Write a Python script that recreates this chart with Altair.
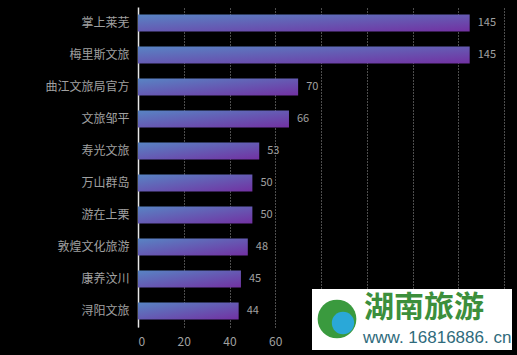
import altair as alt
import pandas as pd

names = ["掌上莱芜", "梅里斯文旅", "曲江文旅局官方", "文旅邹平", "寿光文旅",
         "万山群岛", "游在上栗", "敦煌文化旅游", "康养汶川", "浔阳文旅"]
values = [145, 145, 70, 66, 53, 50, 50, 48, 45, 44]
x_ticks = [0, 20, 40, 60, 80, 100, 120, 140, 160]

df = pd.DataFrame({"name": names, "value": values})

FONT = "Noto Sans CJK SC"
GRAY = "#a0a0a0"

y_enc = alt.Y("name:N", sort=names, title=None,
              scale=alt.Scale(paddingInner=0.47, paddingOuter=0.235),
              axis=alt.Axis(labelColor=GRAY, labelFontSize=12, labelFont=FONT,
                            labelPadding=9, ticks=False, domainColor="#e6e6e6",
                            domainWidth=1.5, grid=False))
x_enc = alt.X("value:Q", title=None,
              scale=alt.Scale(domain=[0, 160], nice=False),
              axis=alt.Axis(values=x_ticks, labelColor=GRAY, labelFontSize=12,
                            labelFont=FONT, labelPadding=9, ticks=False, domain=False,
                            labelExpr="datum.value <= 60 ? datum.label : ''",
                            grid=True, gridColor="#9a9a9a", gridDash=[1, 2],
                            gridWidth=1))

gradient = alt.Gradient(
    gradient="linear", x1=0, y1=0, x2=1, y2=1,
    stops=[alt.GradientStop(color="#5884c4", offset=0),
           alt.GradientStop(color="#7231a2", offset=1)])

bars = alt.Chart(df).mark_bar(color=gradient).encode(x=x_enc, y=y_enc)
labels = alt.Chart(df).mark_text(align="left", baseline="middle", dx=8,
                                 fontSize=11, font=FONT, color=GRAY).encode(
    x="value:Q", y=alt.Y("name:N", sort=names), text="value:Q")

wm = pd.DataFrame({"t": ["湖南旅游"], "u": ["www. 16816886. cn"]})
wm_rect = alt.Chart(wm).mark_rect(color="white").encode(
    x=alt.value(174), x2=alt.value(374), y=alt.value(282), y2=alt.value(343))
wm_logo = alt.Chart(wm).mark_point(filled=True, shape="circle", size=1500,
                                   color="#3a9a3e", opacity=1).encode(
    x=alt.value(199), y=alt.value(312))
wm_logo2 = alt.Chart(wm).mark_point(filled=True, shape="circle", size=500,
                                    color="#2aa8d8", opacity=1).encode(
    x=alt.value(205), y=alt.value(316))
wm_t1 = alt.Chart(wm).mark_text(font=FONT, fontSize=30, fontWeight="bold",
                                color="#3c8f3c", align="left",
                                baseline="middle").encode(
    x=alt.value(226), y=alt.value(301), text="t:N")
wm_t2 = alt.Chart(wm).mark_text(font="Liberation Sans", fontSize=17,
                                color="#2f6b7c", align="left",
                                baseline="middle").encode(
    x=alt.value(225), y=alt.value(331), text="u:N")

chart = alt.layer(bars, labels, wm_rect, wm_logo, wm_logo2, wm_t1, wm_t2).properties(
    width=366, height=320,
    autosize=alt.AutoSizeParams(type="none"),
    padding={"left": 138, "top": 7, "right": 13, "bottom": 28},
    background="black",
).configure_view(stroke=None)

chart.save("out.html", embed_options={"renderer": "svg", "actions": False})
